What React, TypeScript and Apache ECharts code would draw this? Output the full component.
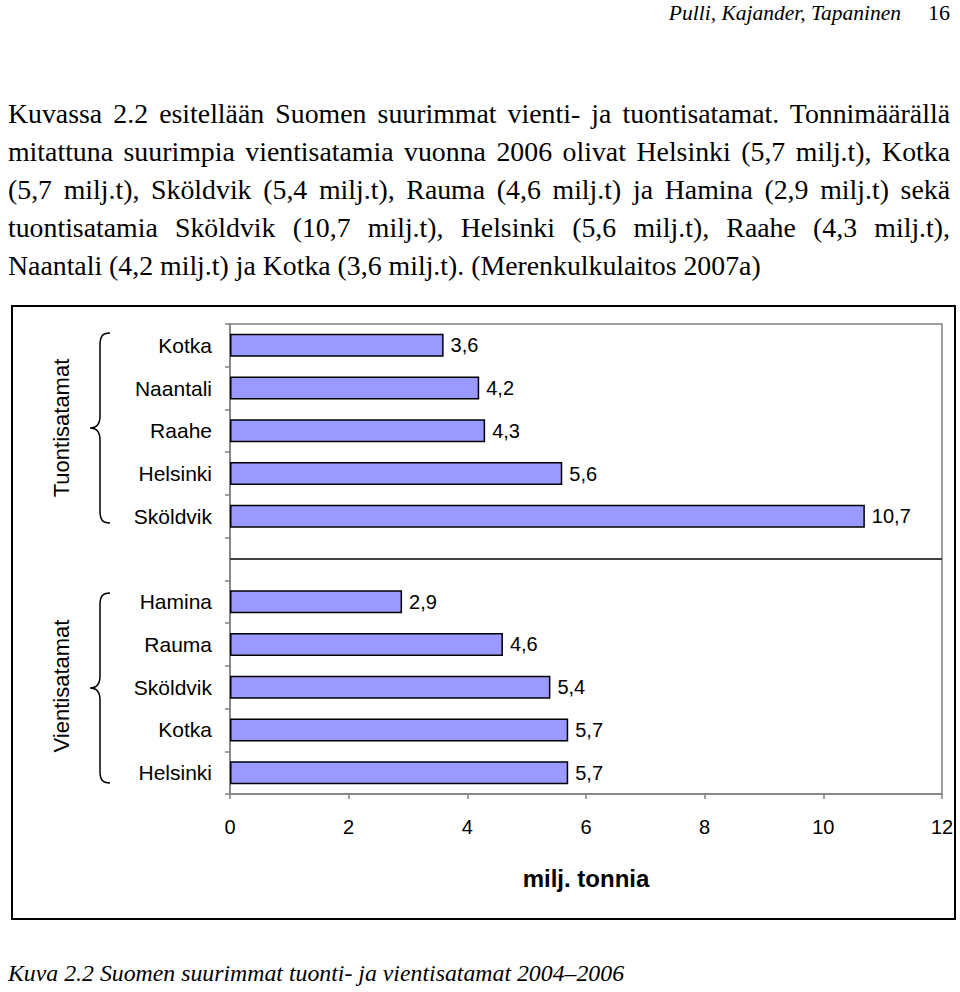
import React, { useEffect, useRef } from "react";
import * as echarts from "echarts";

// ---- data ----
const importPorts = ["Kotka", "Naantali", "Raahe", "Helsinki", "Sköldvik"];
const importValues = [3.6, 4.2, 4.3, 5.6, 10.7];
const exportPorts = ["Hamina", "Rauma", "Sköldvik", "Kotka", "Helsinki"];
const exportValues = [2.9, 4.6, 5.4, 5.7, 5.7];
const groupLabels = ["Tuontisatamat", "Vientisatamat"];
const xMin = 0;
const xMax = 12;
const xInterval = 2;
const xName = "milj. tonnia";

const headerAuthors = "Pulli, Kajander, Tapaninen";
const headerPage = "16";
const paragraphLines = [
  "Kuvassa 2.2 esitellään Suomen suurimmat vienti- ja tuontisatamat. Tonnimäärällä",
  "mitattuna suurimpia vientisatamia vuonna 2006 olivat Helsinki (5,7 milj.t), Kotka",
  "(5,7 milj.t), Sköldvik (5,4 milj.t), Rauma (4,6 milj.t) ja Hamina (2,9 milj.t) sekä",
  "tuontisatamia Sköldvik (10,7 milj.t), Helsinki (5,6 milj.t), Raahe (4,3 milj.t),",
  "Naantali (4,2 milj.t) ja Kotka (3,6 milj.t). (Merenkulkulaitos 2007a)",
];
const caption = "Kuva 2.2 Suomen suurimmat tuonti- ja vientisatamat 2004–2006";

const categories = [...importPorts, "", ...exportPorts];
const values: (number | null)[] = [...importValues, null, ...exportValues];
const catKeys = categories.map((_, i) => "c" + i);

const BRACE_D =
  "M20,0 C12,0 10,4 10,12 L10,83 C10,91 7,95 0,95 C7,95 10,99 10,107 L10,178 C10,186 12,190 20,190";
let braceRegistered = false;

const SANS = "'Liberation Sans', Arial, sans-serif";
const SERIF = "'Liberation Serif', 'Times New Roman', serif";

export default function App() {
  const ref = useRef<HTMLDivElement>(null);

  useEffect(() => {
    if (!ref.current) return;
    if (!braceRegistered) {
      echarts.graphic.registerShape("brace", echarts.graphic.extendPath(BRACE_D, {}));
      braceRegistered = true;
    }
    const chart = echarts.init(ref.current, null, { renderer: "svg" });
    chart.setOption({
      animation: false,
      backgroundColor: "transparent",
      grid: {
        left: 230,
        right: 18,
        top: 324,
        bottom: 198,
        show: true,
        borderColor: "#808080",
        borderWidth: 1.5,
        backgroundColor: "transparent",
      },
      xAxis: {
        type: "value",
        min: xMin,
        max: xMax,
        interval: xInterval,
        splitLine: { show: false },
        axisLine: { show: true, lineStyle: { color: "#808080", width: 1.5 } },
        axisTick: { show: true, length: 5, lineStyle: { color: "#808080", width: 1.5 } },
        axisLabel: { fontSize: 20, color: "#000", fontFamily: SANS, margin: 23 },
        name: xName,
        nameLocation: "middle",
        nameGap: 72,
        nameTextStyle: { fontSize: 24, fontWeight: "bold", color: "#000", fontFamily: SANS },
      },
      yAxis: {
        type: "category",
        inverse: true,
        data: catKeys,
        axisLine: { show: true, lineStyle: { color: "#808080", width: 1.5 } },
        axisTick: { show: true, length: 5, lineStyle: { color: "#808080", width: 1.5 } },
        axisLabel: {
          fontSize: 21,
          color: "#000",
          fontFamily: SANS,
          margin: 18,
          formatter: (v: string) => categories[Number(v.slice(1))],
        },
      },
      series: [
        {
          type: "bar",
          data: values,
          barWidth: 23,
          itemStyle: { color: "#9999FF", borderColor: "#000", borderWidth: 1.5 },
          label: {
            show: true,
            position: "right",
            distance: 7,
            fontSize: 20,
            color: "#000",
            fontFamily: SANS,
            formatter: (p: any) => (p.value == null ? "" : String(p.value).replace(".", ",")),
          },
          markLine: {
            silent: true,
            symbol: ["none", "none"],
            label: { show: false },
            lineStyle: { color: "#404040", width: 2, type: "solid" },
            data: [{ yAxis: 5 }],
          },
        },
      ],
      graphic: [
        {
          type: "rect",
          shape: { x: 12, y: 306, width: 943, height: 613 },
          style: { fill: "none", stroke: "#000", lineWidth: 2 },
        },
        {
          type: "text",
          x: 61,
          y: 428,
          rotation: Math.PI / 2,
          style: {
            text: groupLabels[0],
            fontSize: 22,
            fontFamily: SANS,
            fill: "#000",
            align: "center",
            verticalAlign: "middle",
          },
        },
        {
          type: "text",
          x: 61,
          y: 686,
          rotation: Math.PI / 2,
          style: {
            text: groupLabels[1],
            fontSize: 22,
            fontFamily: SANS,
            fill: "#000",
            align: "center",
            verticalAlign: "middle",
          },
        },
        {
          type: "brace",
          x: 90,
          y: 333,
          style: { fill: "none", stroke: "#000", lineWidth: 1.5 },
        },
        {
          type: "brace",
          x: 90,
          y: 593,
          style: { fill: "none", stroke: "#000", lineWidth: 1.5 },
        },
      ],
    });
    return () => chart.dispose();
  }, []);

  const lineTop = (baseline: number) => baseline - 28;
  const baselines = [123, 161, 199, 237, 275];

  return (
    <div
      style={{
        position: "fixed",
        left: 0,
        top: 0,
        width: 960,
        height: 992,
        background: "#fff",
        overflow: "hidden",
      }}
    >
      <div ref={ref} style={{ position: "absolute", left: 0, top: 0, width: 960, height: 992 }} />
      <div
        style={{
          position: "absolute",
          left: 560,
          width: 341,
          top: 0,
          textAlign: "right",
          fontFamily: SERIF,
          fontStyle: "italic",
          fontSize: 21.5,
          lineHeight: "26px",
          color: "#000",
        }}
      >
        {headerAuthors}
      </div>
      <div
        style={{
          position: "absolute",
          left: 928,
          top: 0,
          fontFamily: SERIF,
          fontSize: 22,
          lineHeight: "26px",
          color: "#000",
        }}
      >
        {headerPage}
      </div>
      {paragraphLines.map((t, i) => (
        <div
          key={i}
          style={{
            position: "absolute",
            left: 8,
            width: 942,
            top: lineTop(baselines[i]),
            fontFamily: SERIF,
            fontSize: 27.8,
            lineHeight: "38px",
            color: "#000",
            textAlign: "justify",
            textAlignLast: i < paragraphLines.length - 1 ? "justify" : "left",
          }}
        >
          {t}
        </div>
      ))}
      <div
        style={{
          position: "absolute",
          left: 8,
          top: 983 - 26,
          fontFamily: SERIF,
          fontStyle: "italic",
          fontSize: 23.8,
          lineHeight: "32px",
          color: "#000",
          whiteSpace: "nowrap",
        }}
      >
        {caption}
      </div>
    </div>
  );
}
